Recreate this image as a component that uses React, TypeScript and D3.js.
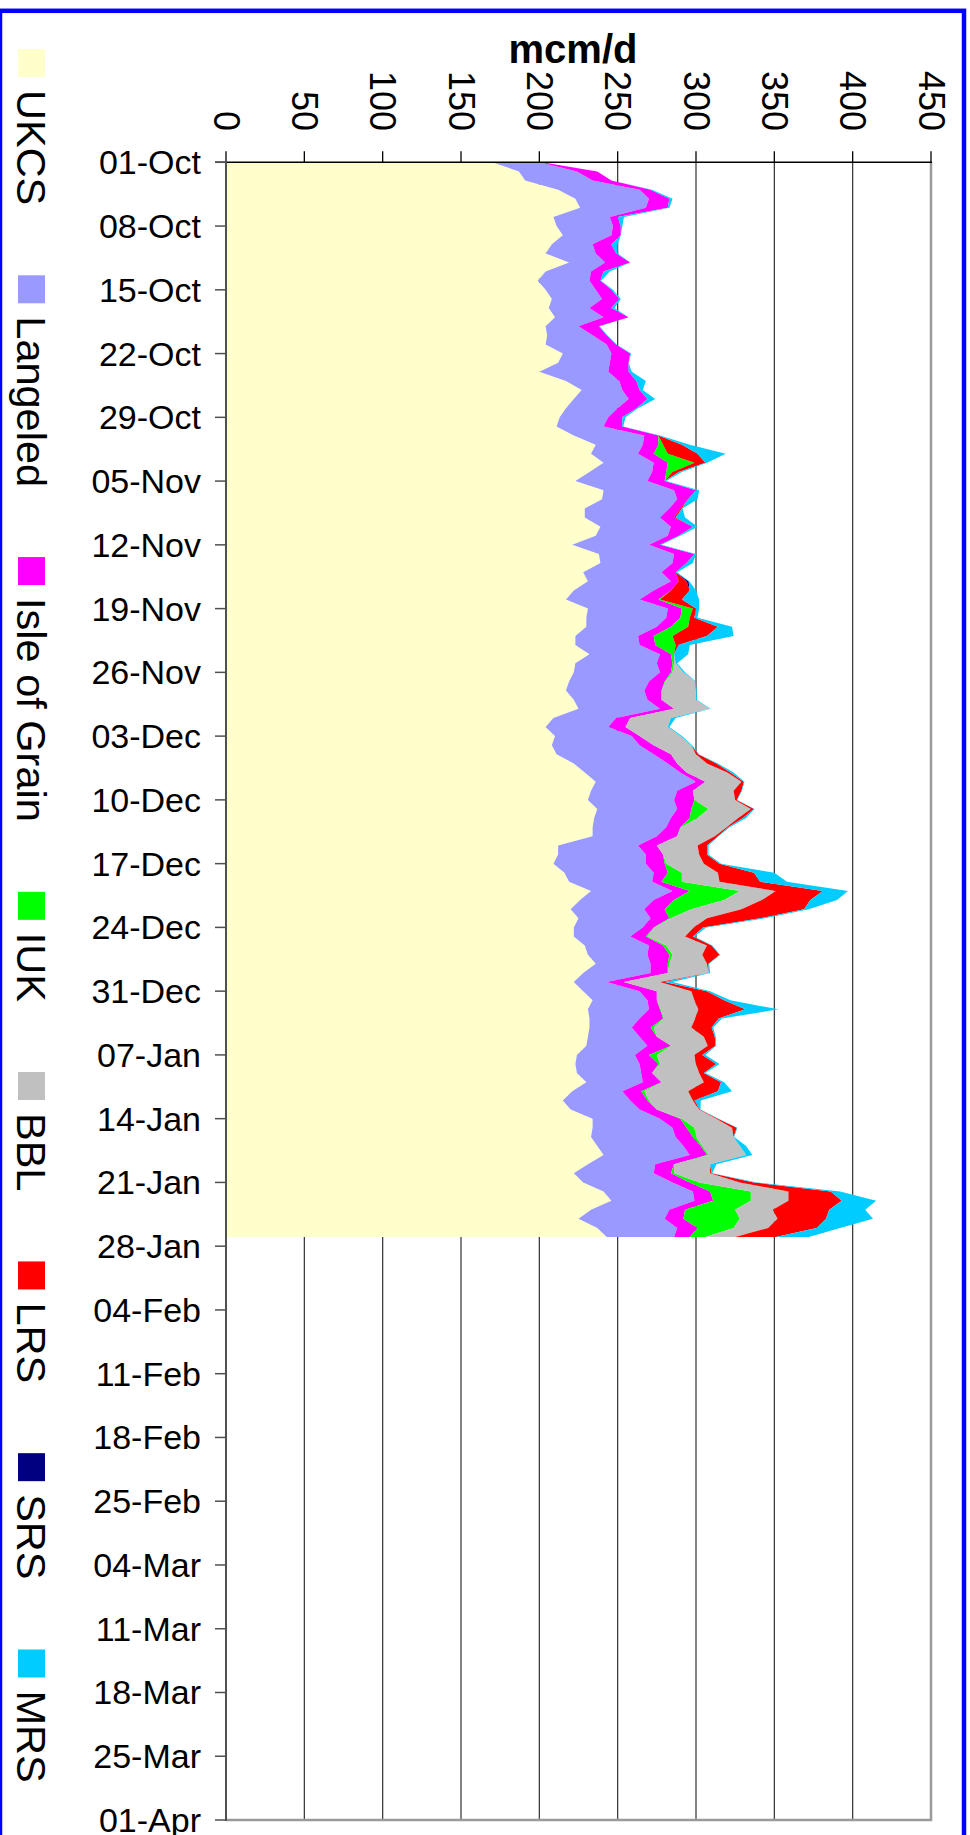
import React from 'react';
import * as d3 from 'd3';

// ---- data (mcm/d), daily from 01-Oct-2006 to 27-Jan-2007 ----
const seriesNames = ['UKCS', 'Langeled', 'Isle of Grain', 'IUK', 'BBL', 'LRS', 'SRS', 'MRS'];
const seriesColors = ['#FFFFCC', '#9999FF', '#FF00FF', '#00FF00', '#C0C0C0', '#FF0000', '#000080', '#00CCFF'];

const ukcs = [
  170, 187, 191, 212, 223, 226, 209, 211, 215, 208,
  204, 219, 204, 199, 204, 208, 206, 210, 204, 205,
  204, 215, 212, 200, 217, 227, 222, 217, 213, 211,
  222, 236, 233, 241, 232, 223, 241, 240, 229, 229,
  239, 236, 221, 238, 239, 228, 231, 222, 217, 231,
  230, 230, 223, 223, 232, 223, 222, 219, 217, 222,
  225, 209, 204, 210, 208, 211, 222, 229, 236, 233,
  231, 237, 235, 234, 234, 212, 212, 209, 216, 219,
  233, 226, 220, 225, 222, 222, 229, 231, 236, 228,
  222, 228, 234, 231, 232, 232, 231, 230, 224, 223,
  224, 230, 221, 215, 220, 234, 234, 233, 237, 241,
  231, 222, 228, 241, 246, 233, 225, 237, 243,
];
const langeled = [
  30, 37, 43, 52, 47, 42, 36, 36, 31, 26,
  32, 23, 29, 33, 32, 32, 26, 31, 21, 29,
  39, 31, 33, 44, 34, 26, 35, 33, 31, 30,
  45, 30, 30, 32, 40, 46, 45, 48, 54, 48,
  45, 46, 49, 48, 46, 50, 53, 51, 47, 51,
  51, 45, 40, 41, 45, 52, 55, 51, 50, 47,
  52, 40, 40, 49, 56, 62, 60, 61, 64, 55,
  55, 51, 49, 47, 41, 51, 56, 59, 57, 53,
  52, 47, 47, 46, 44, 36, 41, 38, 35, 43,
  21, 36, 35, 39, 32, 27, 33, 39, 37, 41,
  41, 36, 32, 43, 44, 43, 51, 54, 55, 55,
  43, 51, 57, 57, 53, 50, 55, 51, 43,
];
const isleOfGrain = [
  2, 13, 12, 7, 13, 14, 5, 5, 6, 12,
  13, 16, 8, 7, 10, 11, 14, 16, 13, 9,
  6, 12, 12, 13, 11, 11, 12, 12, 9, 12,
  9, 10, 10, 9, 9, 11, 14, 7, 7, 9,
  14, 7, 7, 13, 9, 9, 5, 11, 12, 9,
  9, 9, 10, 10, 7, 10, 7, 10, 11, 9,
  9, 9, 11, 5, 9, 11, 6, 4, 6, 10,
  13, 9, 12, 9, 13, 12, 11, 12, 9, 6,
  11, 13, 13, 12, 7, 10, 9, 14, 11, 11,
  11, 11, 6, 7, 15, 12, 11, 15, 9, 12,
  7, 12, 12, 11, 11, 13, 9, 11, 11, 11,
  12, 11, 11, 11, 12, 10, 12, 13, 10,
];
const iuk = [
  0, 0, 0, 0, 0, 0, 0, 0, 0, 0,
  0, 0, 0, 0, 0, 0, 0, 0, 0, 0,
  0, 0, 0, 0, 0, 0, 0, 0, 0, 0,
  0, 3, 9, 17, 4, 0, 0, 0, 0, 0,
  0, 0, 0, 0, 0, 0, 0, 0, 1, 7,
  6, 11, 12, 13, 2, 1, 1, 0.5, 0, 0,
  0, 0, 0, 0, 0, 0, 0, 0, 0, 0,
  0, 11, 5, 0.5, 0, 0, 0, 1, 9, 13,
  32, 32, 17, 1, 0.5, 1, 2, 2, 1, 0,
  0, 0, 0, 0.5, 0.5, 2, 0, 0.5, 5, 1,
  0, 0, 2, 1, 0, 1, 5, 2, 1, 1,
  0, 2, 6, 26, 24, 32, 36, 23, 10,
];
const bbl = [
  0, 0, 0, 0, 0, 0, 0, 0, 0, 0,
  0, 0, 0, 0, 0, 0, 0, 0, 0, 0,
  0, 0, 0, 0, 0, 0, 0, 0, 0, 0,
  0, 0, 0, 0, 0, 0, 0, 0, 0, 0,
  0, 0, 0, 0, 0, 0, 0, 0, 0, 0,
  0, 0, 0, 0, 0, 1, 7, 19, 22, 22,
  23, 26, 27, 26, 24, 16, 19, 26, 23, 26,
  26, 27, 26, 29, 24, 26, 23, 24, 23, 24,
  23, 24, 32, 23, 25, 24, 26, 19, 24, 26,
  23, 22, 24, 24, 20, 24, 30, 23, 24, 23,
  30, 27, 28, 28, 27, 22, 24, 24, 24, 24,
  23, 23, 26, 24, 24, 24, 24, 22, 19,
];
const lrs = [
  0, 0, 0, 0, 0, 0, 0, 0, 0, 0,
  0, 0, 0, 0, 0, 0, 0, 0, 0, 0,
  0, 0, 0, 0, 0, 0, 0, 0, 0, 0,
  0, 12, 19, 7, 4, 0, 0, 0, 1, 1,
  0, 0, 0, 0, 0, 0, 5, 12, 14, 2,
  3, 19, 22, 1.5, 0, 0, 0, 0, 0, 0,
  0, 0, 0, 0, 0, 1.5, 6, 2, 1.5, 5,
  1, 2, 3, 1, 2, 6, 5, 10, 23, 26,
  30, 31, 40, 34, 6, 5, 3, 11, 1, 0,
  3, 10, 19, 30, 15, 13, 7, 5, 5, 13,
  3, 11, 19, 1, 0.5, 1, 3, 0, 0, 0,
  0, 1, 9, 27, 34, 36, 31, 31, 26,
];
const srs = [
  0, 0, 0, 0, 0, 0, 0, 0, 0, 0,
  0, 0, 0, 0, 0, 0, 0, 0, 0, 0,
  0, 0, 0, 0, 0, 0, 0, 0, 0, 0,
  0, 0, 0, 0, 0, 0, 0, 0, 0, 0,
  0, 0, 0, 0, 0, 0, 1.3, 0, 0, 0,
  0, 0, 0, 0.5, 0, 0, 0, 0, 0, 0,
  0, 0, 0, 0, 0, 0, 0, 0, 0, 0,
  0, 0, 0, 0, 0, 0, 0, 0, 0, 0,
  0, 0, 0, 0, 0, 0, 0, 0, 0, 0,
  0, 0, 0, 0, 0, 0, 0, 0, 0, 0,
  0, 0, 0, 0, 0, 0, 0, 0, 0, 0,
  0, 0, 0, 0, 0, 0, 0, 0, 0,
];
const mrs = [
  0, 0, 0, 1, 2, 1, 4, 1, 0, 4,
  1, 0, 4, 0.5, 1, 1, 2, 0, 0.6, 0.4,
  0.4, 0.6, 0, 2, 6, 2, 5, 1, 2, 0.6,
  1, 5, 18, 1, 2, 1, 2, 6, 0.4, 6,
  3, 1, 1, 1, 4, 1, 0.4, 4, 11, 2,
  2, 9, 17, 7, 9, 1, 1, 0.4, 0.4, 0.6,
  0.4, 3, 1, 1, 0.6, 0.4, 1, 2, 0.4, 0.4,
  0.4, 0.4, 2, 1, 0.4, 1, 1, 1, 13, 17,
  16, 17, 3, 3, 2, 1, 0.4, 0.4, 0.4, 1,
  5, 2, 4, 21, 2, 1, 0.6, 0.4, 2, 2,
  1, 2, 9, 4, 0.4, 0.4, 0.4, 0.4, 4, 4,
  4, 0.4, 2, 6, 22, 23, 30, 15, 21,
];

const valueTicks = [0, 50, 100, 150, 200, 250, 300, 350, 400, 450];
const axisTitle = 'mcm/d';

const FONT = "'Liberation Sans', Arial, Helvetica, sans-serif";

function measure(text: string, font: string): number {
  const c = document.createElement('canvas').getContext('2d');
  if (!c) return text.length * 20;
  c.font = font;
  return c.measureText(text).width;
}

export default function App() {
  const W = 970;
  const H = 1835;
  const plotLeft = 226;
  const plotRight = 931;
  const plotTop = 162.3;
  const plotBottom = 1820;

  const start = new Date(Date.UTC(2006, 9, 1));
  const end = new Date(Date.UTC(2007, 3, 1));
  const allSeries = [ukcs, langeled, isleOfGrain, iuk, bbl, lrs, srs, mrs];

  const table = ukcs.map((_, i) => {
    const row: any = { date: d3.utcDay.offset(start, i) };
    seriesNames.forEach((n, k) => (row[n] = allSeries[k][i]));
    return row;
  });
  const stacked = d3.stack<any>().keys(seriesNames)(table);

  const x = d3.scaleLinear().domain([0, 450]).range([plotLeft, plotRight]);
  const y = d3.scaleUtc().domain([start, end]).range([plotTop, plotBottom]);

  const area = d3
    .area<any>()
    .y((d) => y(d.data.date))
    .x0((d) => x(d[0]))
    .x1((d) => x(d[1]));

  const weekTicks = d3.range(0, 27).map((i) => d3.utcDay.offset(start, 7 * i));
  const fmt = d3.utcFormat('%d-%b');

  // legend layout (rotated entries running down the left side)
  const legendFontSize = 41.5;
  const legendFont = `${legendFontSize}px ${FONT}`;
  let ly = 49;
  const legendItems = seriesNames.map((name, i) => {
    const item = { name, color: seriesColors[i], y: ly };
    ly += 41 + measure(name, legendFont) + 70;
    return item;
  });

  return (
    <svg
      width={W}
      height={H}
      style={{ position: 'absolute', left: 0, top: 0, background: '#fff' }}
      fontFamily={FONT}
    >
      <rect x={0} y={0} width={W} height={H} fill="#fff" />

      {/* gridlines */}
      {valueTicks.slice(1, -1).map((v) => (
        <line key={'g' + v} x1={x(v)} x2={x(v)} y1={plotTop} y2={plotBottom} stroke="#303030" strokeWidth={1.2} />
      ))}

      {/* stacked areas */}
      {stacked.map((s, i) => (
        <path key={seriesNames[i]} d={area(s) || ''} fill={seriesColors[i]} stroke="none" />
      ))}

      {/* plot border right/bottom */}
      <line x1={plotRight} x2={plotRight} y1={plotTop} y2={plotBottom + 1} stroke="#9a9a9a" strokeWidth={2.5} />
      <line x1={plotLeft} x2={plotRight + 1} y1={plotBottom} y2={plotBottom} stroke="#9a9a9a" strokeWidth={2.5} />

      {/* value axis (top) */}
      <line x1={plotLeft - 11} x2={plotRight + 1} y1={plotTop} y2={plotTop} stroke="#000" strokeWidth={1.6} />
      {valueTicks.map((v) => (
        <g key={'v' + v}>
          <line x1={x(v)} x2={x(v)} y1={plotTop - 11} y2={plotTop} stroke="#000" strokeWidth={1.3} />
          <text
            transform={`translate(${x(v)},131) rotate(90)`}
            textAnchor="end"
            dominantBaseline="central"
            fontSize={36}
            fill="#000"
          >
            {v}
          </text>
        </g>
      ))}
      <text x={573} y={63} textAnchor="middle" fontSize={40} fontWeight="bold" fill="#000">
        {axisTitle}
      </text>

      {/* date axis (left) */}
      <line x1={plotLeft} x2={plotLeft} y1={plotTop - 1} y2={plotBottom + 1} stroke="#505050" strokeWidth={2} />
      {weekTicks.map((d, i) => (
        <g key={'d' + i}>
          <line x1={plotLeft - 11} x2={plotLeft} y1={y(d)} y2={y(d)} stroke="#505050" strokeWidth={1.5} />
          <text x={201} y={y(d)} textAnchor="end" dominantBaseline="central" fontSize={34} fill="#000">
            {fmt(d)}
          </text>
        </g>
      ))}

      {/* legend */}
      {legendItems.map((it) => (
        <g key={'l' + it.name}>
          <rect x={18} y={it.y} width={27} height={28} fill={it.color} />
          <text
            transform={`translate(31.5,${it.y + 41}) rotate(90)`}
            textAnchor="start"
            dominantBaseline="central"
            fontSize={legendFontSize}
            fill="#000"
          >
            {it.name}
          </text>
        </g>
      ))}

      {/* outer blue frame */}
      <rect x={0} y={10.8} width={964} height={1840} fill="none" stroke="#0000FF" strokeWidth={4.5} />
    </svg>
  );
}
